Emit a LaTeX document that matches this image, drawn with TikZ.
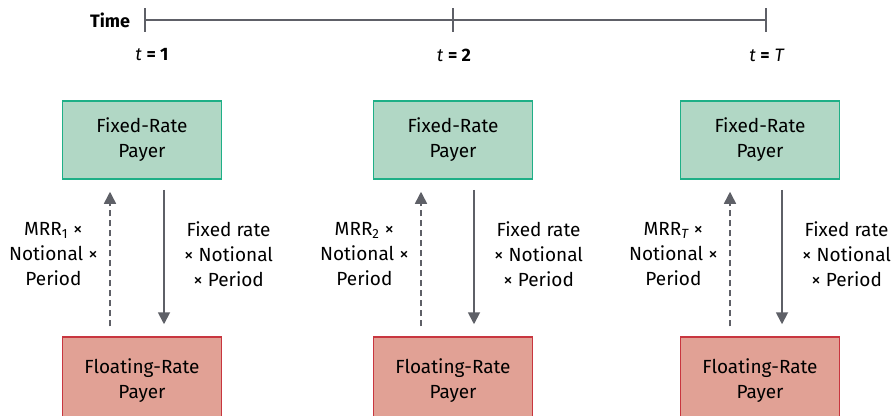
\documentclass[tikz,border=0pt]{standalone}
\usepackage{fontspec}
\setmainfont{Fira Sans}
\usetikzlibrary{arrows.meta,positioning}
\definecolor{fixfill}{HTML}{B1D7C5}
\definecolor{fixline}{HTML}{1FAF87}
\definecolor{flofill}{HTML}{E1A195}
\definecolor{floline}{HTML}{C8363F}
\definecolor{arrgray}{HTML}{5E6067}
\tikzset{
  party/.style={line width=1.5pt, minimum width=159pt, align=center, inner sep=0pt, font=\fontsize{19}{25}\selectfont},
  fixbox/.style={party, minimum height=78pt, draw=fixline, fill=fixfill},
  flobox/.style={party, minimum height=88pt, draw=floline, fill=flofill},
  pay/.style={arrgray, line width=1.8pt, -{Triangle[width=12pt,length=12pt]}, shorten <=10pt, shorten >=12pt},
  float/.style={pay, line width=1.5pt, dash pattern=on 6pt off 4pt},
  lbl/.style={align=center, font=\fontsize{19}{25}\selectfont, inner sep=0pt},
  tick/.style={arrgray, line width=2pt}
}
\begin{document}
\begin{tikzpicture}[x=1pt, y=-1pt]
\useasboundingbox (0,0) rectangle (896,415);
\clip (0,0) rectangle (896,415);
% time axis
\node[font=\fontsize{18}{20}\selectfont\bfseries] (time) at (110,20) {Time};
\coordinate (t1) at (145,20);
\coordinate (t2) at (453,20);
\coordinate (tT) at (766,20);
\draw[arrgray, line width=1.2pt] (t1) -- (tT);
\foreach \t in {t1,t2,tT} \draw[tick] ([yshift=12pt]\t) -- ([yshift=-12pt]\t);
\node[font=\fontsize{18}{20}\selectfont] (lt1) at (152,55) {\textit{t} \textbf{= 1}};
\node[font=\fontsize{18}{20}\selectfont] (lt2) at (454,55) {\textit{t} \textbf{= 2}};
\node[font=\fontsize{18}{20}\selectfont] (ltT) at (767,55) {\textit{t} \textbf{=} \textit{T}};
% parties
\node[fixbox] (fix1) at (142,140) {Fixed-Rate\\Payer};
\node[fixbox] (fix2) at (453,140) {Fixed-Rate\\Payer};
\node[fixbox] (fix3) at (760,140) {Fixed-Rate\\Payer};
\node[flobox] (flo1) at (142,381) {Floating-Rate\\Payer};
\node[flobox] (flo2) at (453,381) {Floating-Rate\\Payer};
\node[flobox] (flo3) at (760,381) {Floating-Rate\\Payer};
% payments
\draw[float] ([xshift=-32pt]flo1.north) -- ([xshift=-32pt]fix1.south) coordinate[pos=.5] (m1);
\draw[pay] ([xshift=22pt]fix1.south) -- ([xshift=22pt]flo1.north) coordinate[pos=.5] (n1);
\draw[float] ([xshift=-32pt]flo2.north) -- ([xshift=-32pt]fix2.south) coordinate[pos=.5] (m2);
\draw[pay] ([xshift=21pt]fix2.south) -- ([xshift=21pt]flo2.north) coordinate[pos=.5] (n2);
\draw[float] ([xshift=-30pt]flo3.north) -- ([xshift=-30pt]fix3.south) coordinate[pos=.5] (m3);
\draw[pay] ([xshift=22pt]fix3.south) -- ([xshift=22pt]flo3.north) coordinate[pos=.5] (n3);
\node[lbl, left=12pt of m1, yshift=4pt] (a1) {MRR\textsubscript{1} ×\\Notional ×\\Period};
\node[lbl, right=20pt of n1, yshift=4pt] (b1) {Fixed rate\\× Notional\\× Period};
\node[lbl, left=12pt of m2, yshift=4pt] (a2) {MRR\textsubscript{2} ×\\Notional ×\\Period};
\node[lbl, right=20pt of n2, yshift=4pt] (b2) {Fixed rate\\× Notional\\× Period};
\node[lbl, left=12pt of m3, yshift=4pt] (a3) {MRR\textsubscript{\itshape T} ×\\Notional ×\\Period};
\node[lbl, right=20pt of n3, yshift=4pt] (b3) {Fixed rate\\× Notional\\× Period};
\end{tikzpicture}
\end{document}
